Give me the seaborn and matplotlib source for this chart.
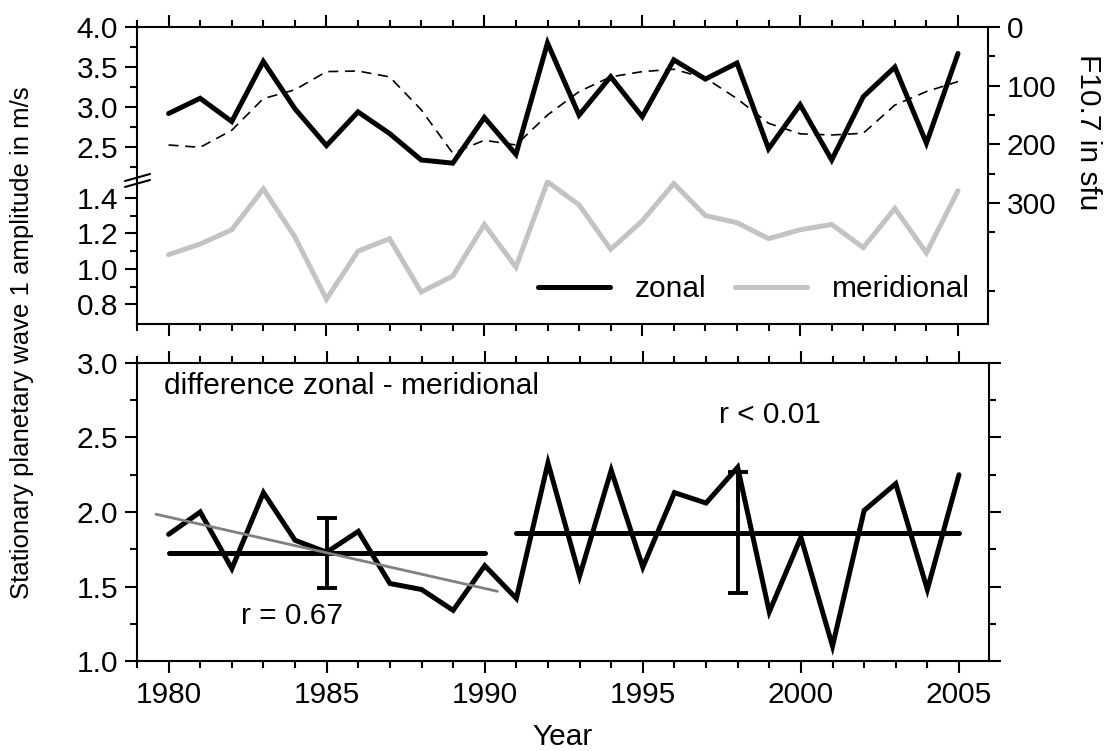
import numpy as np
import pandas as pd
import matplotlib
matplotlib.use("Agg")
import matplotlib.pyplot as plt
from matplotlib.lines import Line2D
from matplotlib.ticker import MultipleLocator, FixedLocator
import seaborn as sns

# ---------------- data ----------------
years = list(range(1980, 2006))
zonal = [2.92, 3.11, 2.82, 3.57, 2.98, 2.52, 2.94, 2.67, 2.34, 2.30, 2.87, 2.41, 3.80,
         2.90, 3.38, 2.88, 3.59, 3.35, 3.55, 2.48, 3.03, 2.34, 3.13, 3.50, 2.55, 3.67]
meridional = [1.08, 1.14, 1.22, 1.45, 1.18, 0.83, 1.10, 1.17, 0.87, 0.96, 1.25, 1.01, 1.49,
              1.36, 1.11, 1.27, 1.48, 1.30, 1.26, 1.17, 1.22, 1.25, 1.12, 1.34, 1.09, 1.44]
f107 = [201, 205, 176, 122, 107, 76, 75, 85, 141, 215, 193, 201, 150,
        110, 85, 76, 72, 87, 122, 164, 182, 184, 181, 133, 110, 93]
difference = [1.85, 2.00, 1.62, 2.13, 1.81, 1.73, 1.87, 1.52, 1.48, 1.34, 1.64, 1.42, 2.33,
              1.57, 2.28, 1.63, 2.13, 2.06, 2.30, 1.33, 1.83, 1.10, 2.01, 2.19, 1.48, 2.25]
period1 = (1980, 1990)
period2 = (1991, 2005)
label_r1 = "r = 0.67"
label_r2 = "r < 0.01"
diff_title = "difference zonal - meridional"
ylabel = "Stationary planetary wave 1 amplitude in m/s"
f_label = "F10.7 in sfu"
xlabel = "Year"

df = pd.DataFrame({"year": years, "zonal": zonal, "meridional": meridional,
                   "f107": f107, "diff": difference})

# ---------------- style ----------------
sns.set_theme(style="ticks")
plt.rcParams['font.family'] = ['Liberation Sans', 'DejaVu Sans']
FS = 21.5
plt.rcParams.update({
    "font.size": FS, "axes.linewidth": 1.5,
    "xtick.major.width": 1.5, "ytick.major.width": 1.5,
    "xtick.minor.width": 1.5, "ytick.minor.width": 1.5,
    "xtick.major.size": 8.6, "ytick.major.size": 8.6,
    "xtick.minor.size": 5, "ytick.minor.size": 5,
    "xtick.direction": "out", "ytick.direction": "out",
    "xtick.labelsize": FS, "ytick.labelsize": FS,
    "xtick.color": "black", "ytick.color": "black",
    "xtick.labelcolor": "black", "ytick.labelcolor": "black",
    "text.color": "black", "axes.labelcolor": "black",
    "axes.edgecolor": "black",
})

W, H = 1104, 751
fig = plt.figure(figsize=(W / 100, H / 100), dpi=100)


def rect(l, t, r, b):
    return [l / W, 1 - b / H, (r - l) / W, (b - t) / H]


XL = (1979.0, 2005.95)
LW = 3.6
GRAY = "#c3c3c3"

ax_u = fig.add_axes(rect(137, 27, 988, 180))
ax_l = fig.add_axes(rect(137, 180, 988, 324))
ax_f = fig.add_axes(rect(137, 27, 988, 324))
ax_b = fig.add_axes(rect(137, 363, 989, 661))

for a in (ax_u, ax_l):
    a.set_facecolor("none")
    for s in a.spines.values():
        s.set_visible(False)

sns.lineplot(data=df, x="year", y="zonal", ax=ax_u, color="black", lw=LW,
             solid_joinstyle="miter")
ax_u.set_ylim(2.09, 4.0)
ax_u.yaxis.set_major_locator(FixedLocator([2.5, 3.0, 3.5, 4.0]))
ax_u.yaxis.set_minor_locator(FixedLocator([2.25, 2.75, 3.25, 3.75]))
ax_u.set_yticklabels(["2.5", "3.0", "3.5", "4.0"])

sns.lineplot(data=df, x="year", y="meridional", ax=ax_l, color=GRAY, lw=LW,
             solid_joinstyle="miter")
ax_l.set_ylim(0.69, 1.5)
ax_l.yaxis.set_major_locator(FixedLocator([0.8, 1.0, 1.2, 1.4]))
ax_l.yaxis.set_minor_locator(FixedLocator([0.9, 1.1, 1.3]))
ax_l.set_yticklabels(["0.8", "1.0", "1.2", "1.4"])

for a in (ax_u, ax_l):
    a.set_xlim(*XL)
    a.set_xticks([])
    a.tick_params(axis="y", which="both", left=True, right=False, labelleft=True, pad=5)
    a.set_xlabel("")
    a.set_ylabel("")

# overlay: F10.7 dashed
ax_f.set_facecolor("none")
sns.lineplot(data=df, x="year", y="f107", ax=ax_f, color="black", lw=1.2,
             linestyle=(0, (6, 4)))
ax_f.set_xlim(*XL)
ax_f.set_ylim(506, 0)
ax_f.yaxis.tick_right()
ax_f.yaxis.set_major_locator(FixedLocator([0, 100, 200, 300]))
ax_f.yaxis.set_minor_locator(FixedLocator([50, 150, 250, 350, 450]))
ax_f.set_yticklabels(["0", "100", "200", "300"])
ax_f.tick_params(axis="y", which="both", left=False, right=True, labelleft=False,
                 labelright=True, pad=5)
ax_f.xaxis.set_major_locator(MultipleLocator(5))
ax_f.xaxis.set_minor_locator(MultipleLocator(1))
ax_f.tick_params(axis="x", which="both", top=True, bottom=True,
                 labeltop=False, labelbottom=False)
ax_f.set_xlabel("")
ax_f.set_ylabel("")
for s in ax_f.spines.values():
    s.set_visible(True)
    s.set_linewidth(1.5)

# legend
handles = [Line2D([0], [0], color="black", lw=LW, solid_capstyle="round"),
           Line2D([0], [0], color=GRAY, lw=LW, solid_capstyle="round")]
fig.legend(handles, ["zonal", "meridional"], loc="center right",
           bbox_to_anchor=(970 / W, 1 - 289 / H), bbox_transform=fig.transFigure,
           ncol=2, frameon=False, fontsize=FS, handlelength=2.4,
           handletextpad=0.85, columnspacing=0.95, borderpad=0, borderaxespad=0)

# axis break marks
for dy in (-3, 3):
    fig.add_artist(Line2D([125 / W, 150 / W],
                          [1 - (184 + dy) / H, 1 - (177 + dy) / H],
                          transform=fig.transFigure, color="black", lw=1.5))

# ---------------- bottom panel ----------------
sns.lineplot(data=df, x="year", y="diff", ax=ax_b, color="black", lw=LW,
             solid_joinstyle="miter")
for (y0, y1) in (period1, period2):
    sub = df[(df.year >= y0) & (df.year <= y1)]["diff"]
    m, sd = sub.mean(), sub.std()
    ax_b.plot([y0, y1], [m, m], color="black", lw=LW, solid_capstyle="round")
    ax_b.errorbar([(y0 + y1) / 2], [m], yerr=[sd], color="black", lw=2.8,
                  capsize=7, capthick=2.8, fmt="none")

sub1 = df[(df.year >= period1[0]) & (df.year <= period1[1])]
coef = np.polyfit(sub1.year, sub1["diff"], 1)
xr = np.array([1979.6, 1990.4])
ax_b.plot(xr, np.polyval(coef, xr), color="#808080", lw=2.0)

ax_b.set_xlim(*XL)
ax_b.set_ylim(1.0, 3.0)
ax_b.yaxis.set_minor_locator(MultipleLocator(0.25))
ax_b.xaxis.set_minor_locator(MultipleLocator(1))
ax_b.set_yticks([1.0, 1.5, 2.0, 2.5, 3.0])
ax_b.set_yticklabels(["1.0", "1.5", "2.0", "2.5", "3.0"])
ax_b.set_xticks([1980, 1985, 1990, 1995, 2000, 2005])
ax_b.set_xticklabels(["1980", "1985", "1990", "1995", "2000", "2005"])
ax_b.tick_params(axis="both", which="both", top=True, right=True,
                 labeltop=False, labelright=False)
ax_b.tick_params(axis="y", pad=5)
ax_b.tick_params(axis="x", pad=6)
ax_b.set_xlabel(xlabel, fontsize=FS, labelpad=10)
ax_b.set_ylabel("")
for s in ax_b.spines.values():
    s.set_visible(True)
    s.set_linewidth(1.5)

ax_b.text(1979.85, 2.846, diff_title, fontsize=FS, ha="left", va="center")
ax_b.text(1982.3, 1.30, label_r1, fontsize=FS, ha="left", va="center")
ax_b.text(1997.4, 2.65, label_r2, fontsize=FS, ha="left", va="center")

fig.text(22 / W, 1 - 343 / H, ylabel, rotation=90, ha="center", va="center",
         fontsize=18.5)
fig.text(1088 / W, 1 - 132 / H, f_label, rotation=-90, ha="center", va="center",
         fontsize=FS)

fig.savefig("out.png", dpi=100)
